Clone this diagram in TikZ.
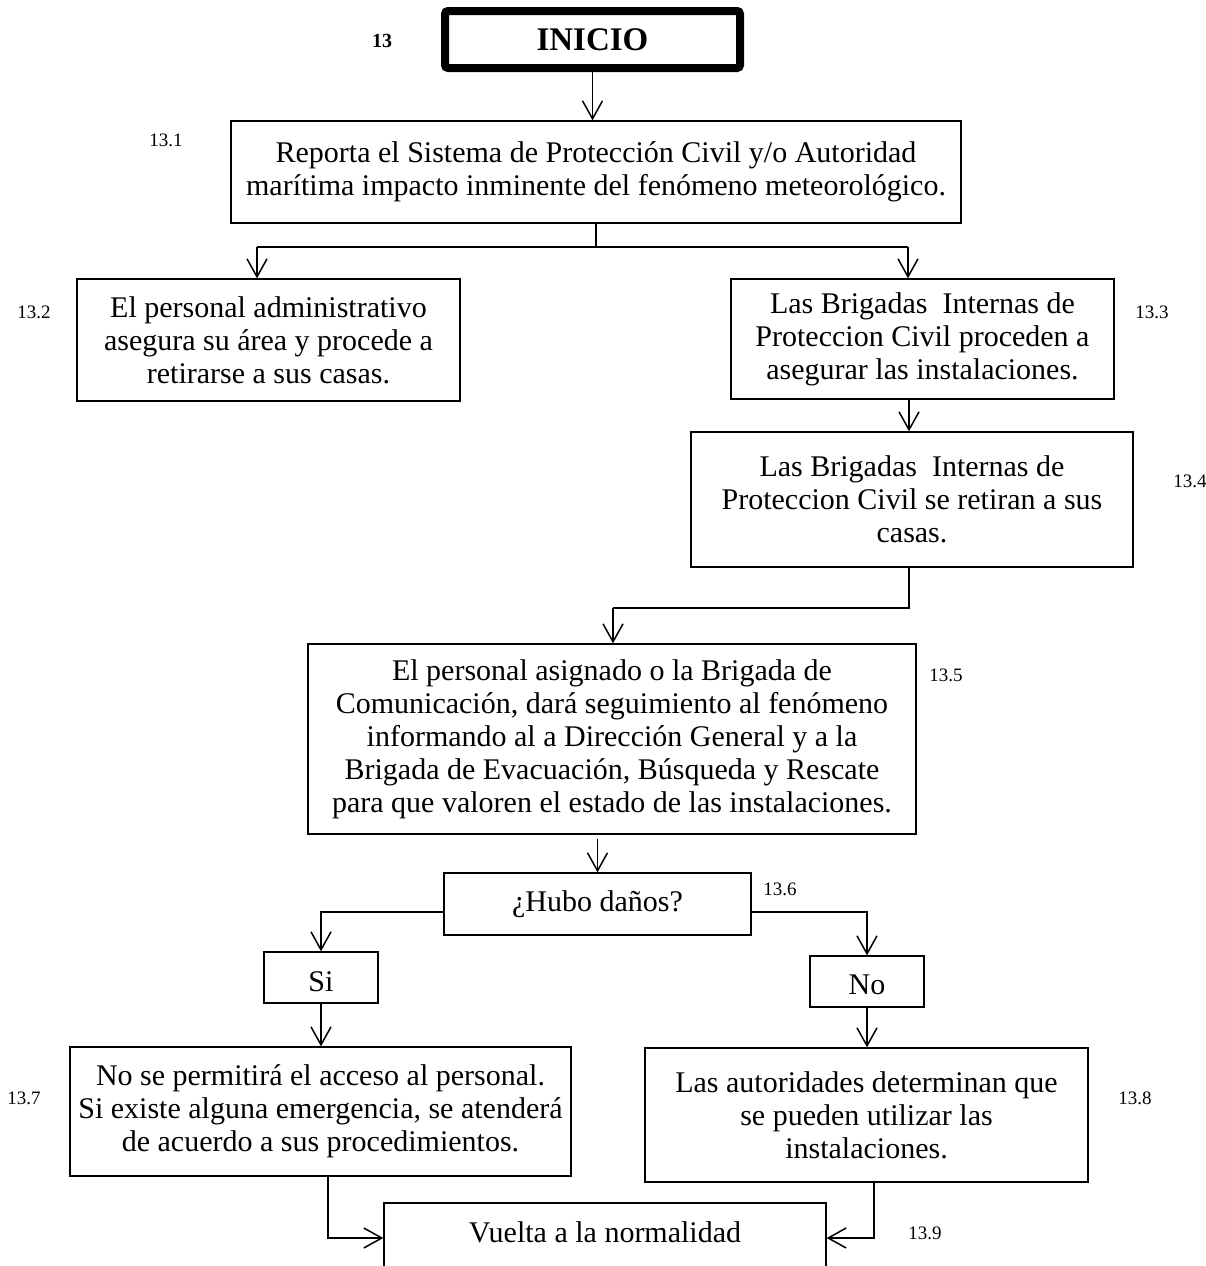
\documentclass[tikz,border=0pt]{standalone}
\usepackage{fontspec}
\setmainfont{Liberation Serif}
\usetikzlibrary{arrows.meta}
\begin{document}
\begin{tikzpicture}[x=1pt,y=-1pt,
  box/.style={draw, line width=1.3pt, inner sep=0pt, align=center,
    font=\fontsize{30}{33}\selectfont},
  lbl/.style={inner sep=0pt, font=\fontsize{19}{22}\selectfont},
  conn/.style={line width=1.5pt},
  arr/.style={conn, -{Straight Barb[length=18pt,width=20pt,line width=1.5pt]}}]
\useasboundingbox (0,0) rectangle (1206,1266);
\clip (0,0) rectangle (1206,1266);

% nodes
\node[box, line width=8pt, rounded corners=3pt, minimum width=295pt, minimum height=57pt,
  font=\fontsize{33}{38}\selectfont\bfseries] (inicio) at (592.5,39.5) {INICIO};
\node[lbl, font=\fontsize{20}{22}\selectfont\bfseries] (l13) at (382,41) {13};

\node[box, minimum width=730pt, minimum height=102pt] (b1) at (596,172)
  {Reporta el Sistema de Protección Civil y/o Autoridad\\marítima impacto inminente del fenómeno meteorológico.};
\node[lbl] (l131) at (166,140) {13.1};

\node[box, minimum width=383pt, minimum height=122pt] (b2) at (268.5,340)
  {El personal administrativo\\asegura su área y procede a\\retirarse a sus casas.};
\node[lbl] (l132) at (34,312) {13.2};

\node[box, minimum width=383pt, minimum height=120pt] (b3) at (922.5,339)
  {Las Brigadas\ \ Internas de\\Proteccion Civil proceden a\\asegurar las instalaciones.};
\node[lbl] (l133) at (1152,312) {13.3};

\node[box, minimum width=442pt, minimum height=135pt] (b4) at (912,499.5)
  {Las Brigadas\ \ Internas de\\Proteccion Civil se retiran a sus\\casas.};
\node[lbl] (l134) at (1190,481) {13.4};

\node[box, minimum width=608pt, minimum height=190pt] (b5) at (612,739)
  {El personal asignado o la Brigada de\\Comunicación, dará seguimiento al fenómeno\\informando al a Dirección General y a la\\Brigada de Evacuación, Búsqueda y Rescate\\para que valoren el estado de las instalaciones.};
\node[lbl] (l135) at (946,675) {13.5};

\node[box, minimum width=307pt, minimum height=62pt] (hubo) at (597.5,904) {¿Hubo daños?};
\node[lbl] (l136) at (780,889) {13.6};

\node[box, minimum width=114pt, minimum height=51pt] (si) at (321,977.5) {\smash{\raisebox{-14pt}{Si}}};
\node[box, minimum width=114pt, minimum height=51pt] (no) at (867,981.5) {\smash{\raisebox{-13pt}{No}}};

\node[box, minimum width=501pt, minimum height=129pt] (b7) at (320.5,1111.5)
  {No se permitirá el acceso al personal.\\Si existe alguna emergencia, se atenderá\\de acuerdo a sus procedimientos.};
\node[lbl] (l137) at (24,1098) {13.7};

\node[box, minimum width=443pt, minimum height=134pt] (b8) at (866.5,1115)
  {Las autoridades determinan que\\se pueden utilizar las\\instalaciones.};
\node[lbl] (l138) at (1135,1098) {13.8};

\node[box, minimum width=442pt, minimum height=70pt] (vuelta) at (605,1238)
  {\smash{\raisebox{-4pt}{Vuelta a la normalidad}}};
\node[lbl] (l139) at (925,1233) {13.9};

% connectors
\draw[arr] (inicio.south) -- (inicio.south |- b1.north);

\coordinate (jL) at (257,247);
\coordinate (jR) at (908,247);
\draw[conn] (b1.south) -- (b1.south |- jL);
\draw[conn] (jL) -- (jR);
\draw[arr] (jL) -- (jL |- b2.north);
\draw[arr] (jR) -- (jR |- b3.north);

\draw[arr] ([xshift=-13.5pt]b3.south) -- ([xshift=-13.5pt]b3.south |- b4.north);

\coordinate (k1) at (909,608);
\coordinate (k2) at (613,608);
\draw[conn] (k1 |- b4.south) -- (k1) -- (k2);
\draw[arr] (k2) -- (k2 |- b5.north);

\draw[arr] ([yshift=-4pt]hubo.north |- b5.south) -- (hubo.north);

\draw[arr] ([yshift=-8pt]hubo.west) -| (si.north);
\draw[arr] ([yshift=-8pt]hubo.east) -| (no.north);

\draw[arr] (si.south) -- (si.south |- b7.north);
\draw[arr] (no.south) -- (no.south |- b8.north);

\draw[arr] ([xshift=7.5pt]b7.south) |- (vuelta.west);
\draw[arr] ([xshift=7.5pt]b8.south) |- (vuelta.east);
\end{tikzpicture}
\end{document}
